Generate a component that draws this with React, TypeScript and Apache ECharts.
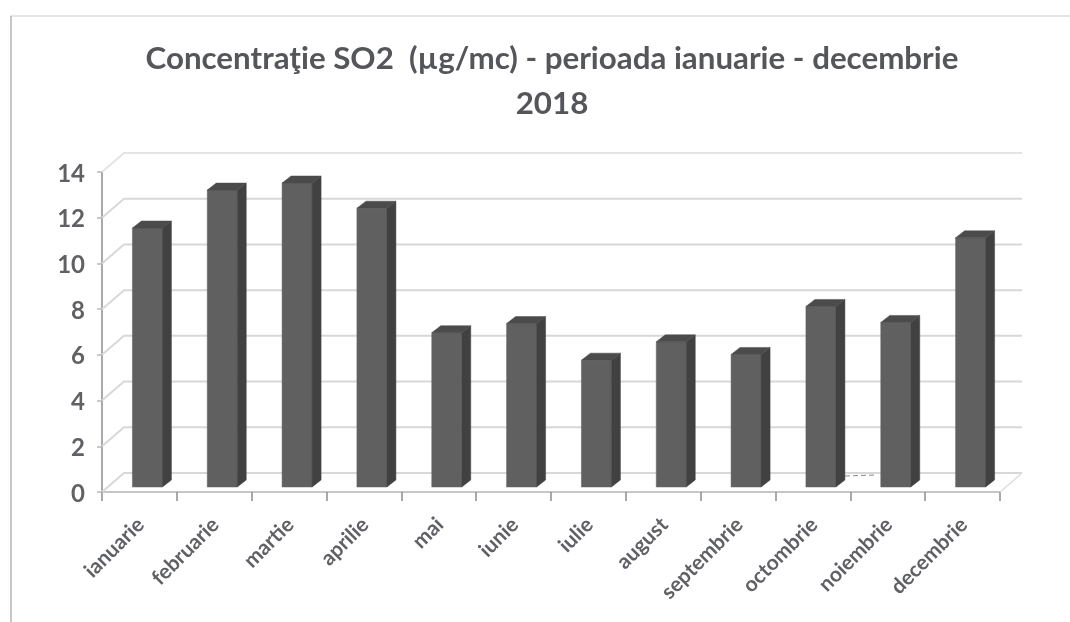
import React, { useEffect, useRef } from "react";
import * as echarts from "echarts";

const titleLines = "Concentraţie SO2  (µg/mc) - perioada ianuarie - decembrie\n2018";
const months = ["ianuarie","februarie","martie","aprilie","mai","iunie","iulie","august","septembrie","octombrie","noiembrie","decembrie"];
const values = [11.33,12.99,13.3,12.2,6.75,7.15,5.55,6.35,5.8,7.9,7.2,10.9];
const yTicks = [0,2,4,6,8,10,12,14];

const DX = 22, DY = 19;
const BAR_W = 30, BAR_SHIFT = 8, BAR_DX = 9, BAR_DY = 7, BAR_BASE = 5;

export default function App() {
  const ref = useRef<HTMLDivElement>(null);
  useEffect(() => {
    const chart = echarts.init(ref.current!, undefined, { renderer: "svg" });
    chart.setOption({
      animation: false,
      backgroundColor: "#fff",
      title: {
        text: titleLines, left: 547, top: 29, textAlign: "center",
        textStyle: { fontFamily: "Lato", fontSize: 31.3, fontWeight: "bold", color: "#55565a", lineHeight: 45 },
      },
      grid: { left: 102, right: 70, top: 172, bottom: 130 },
      xAxis: {
        type: "category", data: months, boundaryGap: true,
        axisLine: { show: true, lineStyle: { color: "#b4b4b4", width: 1.5 } },
        axisTick: { show: true, alignWithLabel: false, length: 9, lineStyle: { color: "#8c8c8c", width: 1.5 } },
        axisLabel: { rotate: 45, fontFamily: "Lato", fontSize: 21, fontWeight: "bold", color: "#606165", margin: 28, interval: 0 },
      },
      yAxis: {
        type: "value", min: 0, max: 14, interval: 2,
        axisLine: { show: true, lineStyle: { color: "#8c8c8c", width: 1.5 } },
        axisTick: { show: true, length: 5, lineStyle: { color: "#b8b8b8", width: 1.5 } },
        axisLabel: { fontFamily: "Lato", fontSize: 24, fontWeight: "bold", color: "#606165", margin: 17 },
        splitLine: { show: false },
      },
      series: [
        {
          type: "custom", silent: true, z: 1,
          data: yTicks.map((t) => [t]),
          encode: { y: 0 },
          renderItem: (_p: any, api: any) => {
            const v = api.value(0);
            const [c0, y] = api.coord([0, v]);
            const c1 = api.coord([1, v])[0];
            const c11 = api.coord([months.length - 1, v])[0];
            const band = c1 - c0;
            const left = c0 - band / 2;
            const right = c11 + band / 2;
            const children: any[] = [{
              type: "polyline",
              shape: { points: [[left, y], [left + DX, y - DY], [right + DX, y - DY]] },
              style: { fill: "none", stroke: v === 14 ? "#e4e4e4" : "#d8d8d8", lineWidth: 2 },
            }];
            if (v === 0) {
              children.push({
                type: "line",
                shape: { x1: right, y1: y, x2: right + DX, y2: y - DY },
                style: { stroke: "#dedede", lineWidth: 1.5 },
              });
            }
            return { type: "group", children };
          },
        },
        {
          type: "custom", silent: true, z: 3,
          data: values.map((v, i) => [i, v]),
          encode: { x: 0, y: 1 },
          renderItem: (_p: any, api: any) => {
            const i = api.value(0), v = api.value(1);
            const [cx, yTop0] = api.coord([i, v]);
            const yBase0 = api.coord([i, 0])[1];
            const l = cx - BAR_W / 2 + BAR_SHIFT, r = l + BAR_W;
            const b = yBase0 - BAR_BASE, t = yTop0 - BAR_BASE;
            return {
              type: "group",
              children: [
                { type: "polygon", shape: { points: [[l, b], [r, b], [r, t], [l, t]] }, style: { fill: "#606060", stroke: "#606060", lineWidth: 0.5 } },
                { type: "polygon", shape: { points: [[r, b], [r + BAR_DX, b - BAR_DY], [r + BAR_DX, t - BAR_DY], [r, t]] }, style: { fill: "#414141", stroke: "#414141", lineWidth: 0.5 } },
                { type: "polygon", shape: { points: [[l, t], [r, t], [r + BAR_DX, t - BAR_DY], [l + BAR_DX, t - BAR_DY]] }, style: { fill: "#4b4b4b", stroke: "#4b4b4b", lineWidth: 0.5 } },
              ],
            };
          },
        },
      ],
      graphic: [
        { type: "line", shape: { x1: 10, y1: 16, x2: 1070, y2: 16 }, style: { stroke: "#dcdcdc", lineWidth: 1.5 } },
        { type: "line", shape: { x1: 11, y1: 16, x2: 11, y2: 622 }, style: { stroke: "#b4b4b4", lineWidth: 1.5 } },
        { type: "line", shape: { x1: 845, y1: 476, x2: 876, y2: 475 }, style: { stroke: "#8a8a8a", lineWidth: 1, lineDash: [5, 3] } },
      ],
    });
    return () => chart.dispose();
  }, []);
  return <div ref={ref} style={{ position: "fixed", left: 0, top: 0, width: 1070, height: 622, filter: "blur(0.6px)" }} />;
}
